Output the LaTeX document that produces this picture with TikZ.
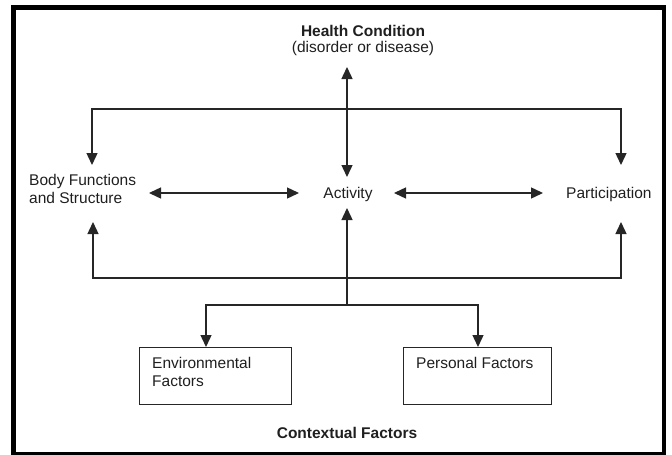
\documentclass[tikz,border=0pt]{standalone}
\usepackage{fontspec}
\setmainfont{Liberation Sans}
\usetikzlibrary{arrows.meta}
\begin{document}
\begin{tikzpicture}[x=1pt,y=-1pt,
  txt/.style={font=\fontsize{15.5}{18.5}\selectfont, inner sep=0pt, text=black!88},
  conn/.style={line width=1.4pt, draw=black!85},
  tip/.style={-{Triangle[width=11pt,length=12pt]}},
  both/.style={{Triangle[width=11pt,length=12pt]}-{Triangle[width=11pt,length=12pt]}},
  box/.style={draw=black!85, line width=1.2pt, minimum height=57pt, inner sep=0pt, anchor=north west}]
\useasboundingbox (0,0) rectangle (672,455);
\draw[line width=4.6pt] (13.5,7.5) rectangle (664,454);

% texts
\node[txt, anchor=base, font=\fontsize{15.5}{18.5}\selectfont\bfseries] (hc) at (363,36) {Health Condition};
\node[txt, anchor=base] (dis) at (363,52) {(disorder or disease)};
\node[txt, anchor=north west, align=left] (bf) at (29,173.8) {Body Functions\\and Structure};
\node[txt, anchor=base] (act) at (348,198) {Activity};
\node[txt, anchor=base west] (part) at (566,198) {Participation};
\node[box, minimum width=152pt] (env) at (139,347) {};
\node[box, minimum width=148pt] (pers) at (403,347) {};
\node[txt, anchor=north west, align=left] (envt) at (152,356.8) {Environmental\\Factors};
\node[txt, anchor=base west] (perst) at (416,368) {Personal Factors};
\node[txt, anchor=base, font=\fontsize{15.5}{18.5}\selectfont\bfseries] (ctx) at (347,438) {Contextual Factors};

% connector end points
\coordinate (hcT) at (347,67);
\coordinate (actT) at (347,177);
\coordinate (actB) at (347,208);
\coordinate (tl) at (92,109);
\coordinate (tr) at (621,109);
\coordinate (bfT) at (92,165);
\coordinate (pT) at (621,165);
\coordinate (bfB) at (93,222);
\coordinate (pB) at (621,222);
\coordinate (bl) at (93,278);
\coordinate (br) at (621,278);
\coordinate (bfR) at (149,193);
\coordinate (actL) at (299,193);
\coordinate (actR) at (394,193);
\coordinate (pL) at (543,193);
\coordinate (j) at (347,305);
\coordinate (jl) at (206,305);
\coordinate (jr) at (478,305);
\coordinate (envT) at (206,347);
\coordinate (persT) at (478,347);

% connectors
\draw[conn,both] (hcT) -- (actT);
\draw[conn,both,line join=miter] (bfT) -- (tl) -- (tr) -- (pT);
\draw[conn,both] (bfR) -- (actL);
\draw[conn,both] (actR) -- (pL);
\draw[conn,both,line join=miter] (bfB) -- (bl) -- (br) -- (pB);
\draw[conn,tip] (j) -- (actB);
\draw[conn,both,line join=miter] (envT) -- (jl) -- (jr) -- (persT);
\end{tikzpicture}
\end{document}
